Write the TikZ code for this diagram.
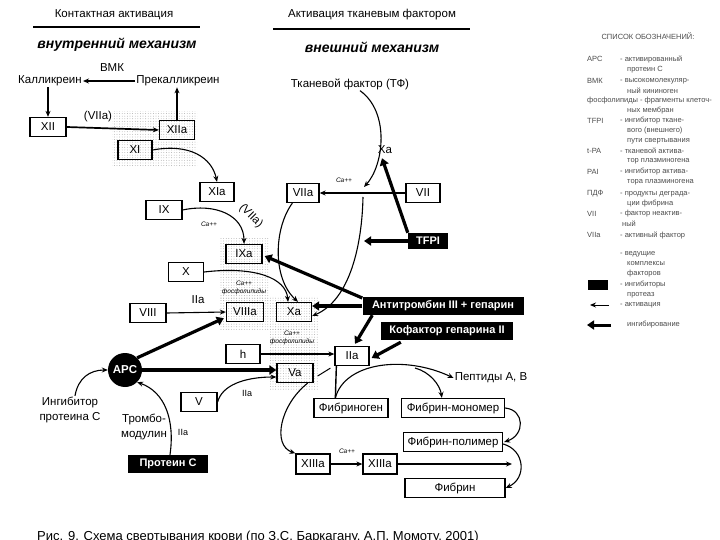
\documentclass[tikz,border=0pt]{standalone}
\usepackage{fontspec}
\setmainfont{Liberation Sans}
\usetikzlibrary{arrows.meta,patterns.meta,calc}
\tikzset{
 bx/.style={draw, line width=1.3pt, minimum width=35pt, minimum height=19pt, inner sep=1pt, font=\fontsize{11.5}{12}\selectfont},
 blk/.style={fill=black, text=white, inner sep=1.5pt, minimum height=18pt, font=\bfseries\fontsize{11}{12}\selectfont},
 lbl/.style={inner sep=1pt, font=\fontsize{11.5}{15}\selectfont},
 sml/.style={inner sep=0.5pt, font=\itshape\fontsize{6.5}{8}\selectfont},
 act/.style={line width=1.1pt, -{Stealth[length=6pt,width=5pt]}},
 inh/.style={line width=3.2pt, -{Triangle[length=7pt,width=9pt]}},
 lgd/.style={anchor=west, inner sep=0pt, text=black!70, font=\fontsize{7.5}{8}\selectfont},
 stip/.style={pattern={Dots[radius=0.45pt,distance=2.6pt]}, pattern color=black!35},
 hdr/.style={inner sep=1pt, font=\bfseries\itshape\fontsize{14}{15}\selectfont},
}
\begin{document}
\begin{tikzpicture}[x=1pt,y=-1pt]
\useasboundingbox (0,0) rectangle (720,540);
% stippled complexes
\fill[stip] (112,112) rectangle (197,167);
\fill[stip] (220,238) rectangle (268,300);
\fill[stip] (220,296) rectangle (318,329);
\fill[stip] (270,327) rectangle (318,389);

% headers
\node[lbl] (ka) at (114,15) {Контактная активация};
\draw[line width=1.5pt] (33,27) -- (200,27);
\node[hdr] (vnutr) at (117,45) {внутренний механизм};
\node[lbl] (atf) at (372,15) {Активация тканевым фактором};
\draw[line width=1.5pt] (273,29) -- (470,29);
\node[hdr] (vnesh) at (372,47) {внешний механизм};

% boxes
\node[bx, minimum width=36pt] (xii) at (48,127) {XII};
\node[bx] (xiia) at (177,130) {XIIa};
\node[bx, minimum width=34pt] (xi) at (135,150) {XI};
\node[bx, minimum width=34pt] (xia) at (217,192) {XIa};
\node[bx, minimum width=36pt] (ix) at (164,210) {IX};
\node[bx, minimum width=36pt] (ixa) at (244,254) {IXa};
\node[bx] (x) at (186,272) {X};
\node[bx, minimum width=36pt] (viii) at (148,313) {VIII};
\node[bx, minimum width=37pt] (viiia) at (245,312) {VIIIa};
\node[bx] (xa) at (294,312) {Xa};
\node[bx, minimum width=34pt] (h) at (243,354) {h};
\node[bx, minimum width=36pt] (va) at (295,373) {Va};
\node[bx, minimum width=34pt] (iia) at (352,356) {IIa};
\node[bx, minimum width=36pt] (v) at (199,402) {V};
\node[bx, minimum width=32pt] (viia) at (303,193) {VIIa};
\node[bx, minimum width=34pt] (vii) at (423,193) {VII};
\node[blk, minimum width=40pt, minimum height=16pt] (tfpi) at (428,241) {TFPI};
\node[blk, minimum width=161pt] (at3) at (443,306) {Антитромбин III + гепарин};
\node[blk, minimum width=132pt] (cof) at (447,331) {Кофактор гепарина II};
\node[circle, fill=black, text=white, minimum size=34pt, inner sep=0pt, font=\bfseries\fontsize{11.5}{12}\selectfont] (apc) at (125,370) {APC};
\node[blk, minimum width=80pt] (protc) at (168,464) {Протеин С};
\node[bx, minimum width=74pt] (fgn) at (351,408) {Фибриноген};
\node[bx, minimum width=103pt] (fmono) at (453,408) {Фибрин-мономер};
\node[bx, minimum width=99pt] (fpoly) at (453,442) {Фибрин-полимер};
\node[bx, minimum width=34pt, minimum height=20pt] (xiiia1) at (313,464) {XIIIa};
\node[bx, minimum width=34pt, minimum height=20pt] (xiiia2) at (380,464) {XIIIa};
\node[bx, minimum width=100pt] (fib) at (455,488) {Фибрин};

% labels
\node[lbl] (kal) at (50,81) {Калликреин};
\node[lbl] (prekal) at (178,81) {Прекалликреин};
\node[lbl] (vmk) at (112,68) {ВМК};
\node[lbl] (viialbl) at (98,117) {(VIIa)};
\node[lbl] (tf) at (350,84) {Тканевой фактор (ТФ)};
\node[lbl] (xalbl) at (385,150) {Xa};
\node[sml] (ca1) at (344,180) {Ca++};
\node[sml] (ca2) at (209,224) {Ca++};
\node[lbl, rotate=-45] (viialbl2) at (251,216) {(VIIa)};
\node[sml, align=center] (ca3) at (244,288) {Ca++\\фосфолипиды};
\node[sml, align=center] (ca4) at (292,338) {Ca++\\фосфолипиды};
\node[lbl] (iialbl1) at (198,300) {IIa};
\node[lbl, font=\fontsize{9}{10}\selectfont] (iialbl2) at (247,393) {IIa};
\node[lbl, font=\fontsize{9}{10}\selectfont] (iialbl3) at (183,432) {IIa};
\node[sml] (ca5) at (347,451) {Ca++};
\node[lbl] (pept) at (491,378) {Пептиды А, В};
\node[lbl, align=center] (inhib) at (70,410) {Ингибитор\\протеина С};
\node[lbl, align=center] (tromb) at (144,427) {Тромбо-\\модулин};

% coordinates
\coordinate (tfa) at (364,187);
\coordinate (tfb) at (363,197);
\coordinate (tfpiend) at (364,241);
\coordinate (br) at (415,368);
\coordinate (xiiiend) at (512,464);

% connectors
\draw[act] (prekal.west) -- (kal.east);
\draw[act] (xii.north |- kal.south) -- (xii.north);
\draw[act, line width=1.7pt] (xii.east) -- (xiia.west);
\draw[act] (xiia.north) -- (xiia.north |- prekal.south);
\draw[act] (xi.east) .. controls (190,143) and (212,158) .. (xia.north);
\draw[act] (ix.east) .. controls (215,203) and (244,215) .. (ixa.north);
\draw[act] (x.east) .. controls (255,266) and (286,278) .. ($(xa.north)+(-6,0)$);
\draw[act] ($(viia.south west)+(6,0)$) .. controls (274,228) and (272,278) .. ($(xa.north)+(4,0)$);
\draw[act] (vii.west) -- (viia.east);
\draw[act] ($(tf.south)+(10,0)$) .. controls (390,112) and (384,165) .. (tfa);
\draw[act] (tfb) .. controls (362,245) and (350,300) .. ($(xa.east)+(0,4)$);
\draw[inh] (tfpi.north west) -- ($(xalbl.south)+(-3,3)$);
\draw[inh] (tfpi.west) -- (tfpiend);
\draw[inh] ($(at3.west)+(0,-8)$) -- ($(ixa.east)+(2,2)$);
\draw[inh] (at3.west) -- (at3.west -| xa.east);
\draw[inh] ($(at3.south west)+(10,0)$) -- ($(iia.north)+(3,-2)$);
\draw[inh] ($(cof.south west)+(20,2)$) -- ($(iia.east)+(2,2)$);
\draw[inh] (apc.north east) -- ($(viiia.south west)+(-2,-4)$);
\draw[inh] (apc.east) -- (apc.east -| va.west);
\draw[act] (v.east) .. controls (222,385) and (245,377) .. ($(va.west)+(0,4)$);
\draw[act] (viii.east) -- (viiia.west);
\draw[act] (h.east) -- (h.east -| iia.west);
\draw[line width=1pt] ($(va.east)+(4,3)$) -- ($(iia.south west)+(-4,2)$);
\draw[line width=1.4pt] ($(iia.south west)+(2,0)$) -- ($(fgn.north west)+(22,0)$);
\draw[act] ($(fgn.north west)+(22,0)$) .. controls (345,362) and (405,355) .. (pept.west);
\draw[act] (br) .. controls (430,372) and (440,385) .. ($(fmono.north west)+(41,0)$);
\draw[act] (fmono.east) .. controls (525,410) and (525,435) .. ($(fpoly.east)+(1,0)$);
\draw[act] ($(fpoly.east)+(0,2)$) .. controls (525,450) and (527,478) .. (fib.east);
\draw[act] (xiiia1.east) -- (xiiia2.west);
\draw[act] (xiiia2.east) -- (xiiiend);
\draw[act] ($(va.south east)+(-6,0)$) .. controls (280,405) and (272,445) .. (xiiia1.north west);
\draw[act] ($(inhib.north)+(5,0)$) .. controls (78,378) and (90,370) .. (apc.west);
\draw[act] ($(protc.north)+(2,0)$) .. controls (175,420) and (165,392) .. (apc.south east);

% legend
\node[lgd, anchor=center] (lt) at (648,36) {СПИСОК ОБОЗНАЧЕНИЙ:};
\node[lgd] (l1) at (587,59) {APC};
\node[lgd] (l1d) at (620,59) {- активированный};
\node[lgd] (l1e) at (627,70) {протеин С};
\node[lgd] (l2) at (587,81) {ВМК};
\node[lgd] (l2d) at (620,81) {- высокомолекуляр-};
\node[lgd] (l2e) at (627,91) {ный кининоген};
\node[lgd] (l3) at (587,101) {фосфолипиды - фрагменты клеточ-};
\node[lgd] (l3e) at (627,111) {ных мембран};
\node[lgd] (l4) at (587,121) {TFPI};
\node[lgd] (l4d) at (620,121) {- ингибитор ткане-};
\node[lgd] (l4e) at (627,131) {вого (внешнего)};
\node[lgd] (l4f) at (627,141) {пути свертывания};
\node[lgd] (l5) at (587,151) {t-PA};
\node[lgd] (l5d) at (620,151) {- тканевой актива-};
\node[lgd] (l5e) at (627,161) {тор плазминогена};
\node[lgd] (l6) at (587,172) {PAI};
\node[lgd] (l6d) at (620,172) {- ингибитор актива-};
\node[lgd] (l6e) at (627,182) {тора плазминогена};
\node[lgd] (l7) at (587,194) {ПДФ};
\node[lgd] (l7d) at (620,194) {- продукты деграда-};
\node[lgd] (l7e) at (627,204) {ции фибрина};
\node[lgd] (l8) at (587,214) {VII};
\node[lgd] (l8d) at (620,214) {- фактор неактив-};
\node[lgd] (l8e) at (622,224) {ный};
\node[lgd] (l9) at (587,235) {VIIa};
\node[lgd] (l9d) at (620,235) {- активный фактор};
\node[lgd] (l10) at (620,254) {- ведущие};
\node[lgd] (l10e) at (627,264) {комплексы};
\node[lgd] (l10f) at (627,274) {факторов};
\node[fill=black, minimum width=20pt, minimum height=10pt, inner sep=0pt] (lbk) at (598,285) {};
\node[lgd] (l11) at (620,285) {- ингибиторы};
\node[lgd] (l11e) at (627,295) {протеаз};
\coordinate (la1) at (609,305);
\coordinate (la2) at (590,305);
\draw[act, line width=0.9pt] (la1) -- (la2);
\node[lgd] (l12) at (620,305) {- активация};
\coordinate (lb1) at (611,325);
\coordinate (lb2) at (587,325);
\draw[inh, line width=3pt] (lb1) -- (lb2);
\node[lgd] (l13) at (627,325) {ингибирование};

% caption
\node[anchor=base west, inner sep=0pt, font=\fontsize{13}{14}\selectfont] (cap) at (37,540) {Рис. 9. Схема свертывания крови (по З.С. Баркагану, А.П. Момоту, 2001)};
\end{tikzpicture}
\end{document}
